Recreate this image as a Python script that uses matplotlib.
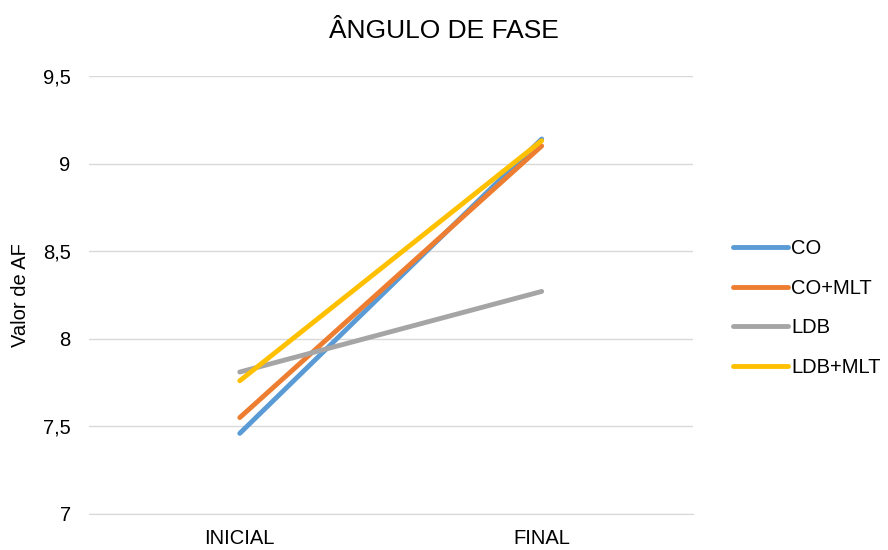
import matplotlib.pyplot as plt
from matplotlib.ticker import FuncFormatter
from matplotlib.lines import Line2D

plt.rcParams['font.family'] = ['Liberation Sans', 'DejaVu Sans']

categories = ["INICIAL", "FINAL"]
series = ["CO", "CO+MLT", "LDB", "LDB+MLT"]
co = [7.46, 9.14]
co_mlt = [7.55, 9.10]
ldb = [7.81, 8.27]
ldb_mlt = [7.76, 9.13]
colors = ["#5B9BD5", "#ED7D31", "#A5A5A5", "#FFC000"]

fig = plt.figure(figsize=(8.88, 5.5), dpi=100)
ax = fig.add_axes([0.1, 0.0655, 0.68, 0.7965])

x = [0, 1]
for vals, c, name in zip([co, co_mlt, ldb, ldb_mlt], colors, series):
    ax.plot(x, vals, color=c, lw=3.5, solid_capstyle='round', label=name)

ax.set_xlim(-0.5, 1.5)
ax.set_ylim(7, 9.5)
ax.set_yticks([7, 7.5, 8, 8.5, 9, 9.5])
ax.yaxis.set_major_formatter(FuncFormatter(lambda v, p: ('%g' % v).replace('.', ',')))
ax.set_xticks(x)
ax.set_xticklabels(categories)
ax.grid(axis='y', color='#D9D9D9', lw=1)
ax.set_axisbelow(True)
for s in ['top', 'right', 'left']:
    ax.spines[s].set_visible(False)
ax.spines['bottom'].set_color('#D9D9D9')
ax.tick_params(axis='both', length=0, labelsize=14.5, colors='#000000')
ax.tick_params(axis='x', pad=11)
ax.tick_params(axis='y', pad=13)
ax.set_ylabel("Valor de AF", fontsize=14.5, labelpad=9)
fig.suptitle("ÂNGULO DE FASE", fontsize=19, x=0.5, y=0.943, va='center')

handles = [Line2D([], [], color=c, lw=3.5, solid_capstyle='round') for c in colors]
fig.legend(handles, series, loc='center left', bbox_to_anchor=(0.805, 0.44),
           frameon=False, fontsize=14.5, handlelength=2.75, handletextpad=0.15,
           labelspacing=1.03)

fig.savefig("out.png", dpi=100)
